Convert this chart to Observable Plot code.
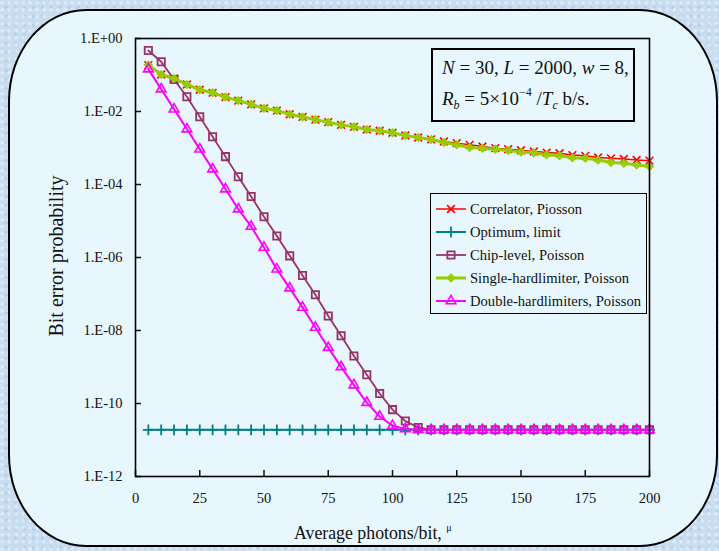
<!DOCTYPE html>
<html>
<head>
<meta charset="utf-8">
<script src="https://cdn.jsdelivr.net/npm/d3@7"></script>
<script src="https://cdn.jsdelivr.net/npm/@observablehq/plot@0.6"></script>
<style>
  html, body { margin: 0; padding: 0; }
  body {
    width: 719px; height: 551px; overflow: hidden;
    background-color: #c9ddf1;
    background-image:
      radial-gradient(circle at 30% 40%, rgba(255,255,255,0.35) 0 1.5px, transparent 2px),
      radial-gradient(circle at 70% 80%, rgba(170,195,230,0.5) 0 1.5px, transparent 2px);
    background-size: 7px 7px, 9px 9px;
    font-family: "Liberation Serif", "Times New Roman", serif;
  }
  #wrap { position: relative; width: 719px; height: 551px; }
  .panel {
    position: absolute; left: 8px; top: 9px; width: 706px; height: 534px;
    background: #e8f7fe; border: 2px solid #000;
    border-radius: 78px / 92px;
  }
  #chart { position: absolute; left: 0; top: 0; }
  .note {
    position: absolute; left: 431px; top: 48px; width: 200px; height: 70px;
    border: 2px solid #000; background: #e8f7fe; box-sizing: content-box;
    font-size: 19px; color: #111; line-height: 30px;
  }
  .note .l1 { position: absolute; left: 9px; top: 3px; white-space: nowrap; }
  .note .l2 { position: absolute; left: 9px; top: 34px; white-space: nowrap; }
  .note sub { font-size: 12px; vertical-align: -4px; line-height: 0; }
  .note sup { font-size: 12px; vertical-align: 9px; line-height: 0; }
  .legend {
    position: absolute; left: 430px; top: 193px; width: 215px; height: 119px;
    border: 1.5px solid #000; background: #e8f7fe;
    font-family: "Liberation Serif", serif;
    font-size: 14.6px; color: #111;
  }
  .legend .row { position: absolute; left: 4px; height: 20px; display: flex; align-items: center; white-space: nowrap; }
  .legend svg { margin-right: 3px; }
  .ylab {
    position: absolute; left: 56px; top: 256px;
    transform: translate(-50%, -50%) rotate(-90deg);
    font-size: 20px; white-space: nowrap; color: #111;
  }
  .xlab {
    position: absolute; left: 294px; top: 522px;
    font-size: 17.8px; white-space: nowrap; color: #111;
  }
  .xlab sup { font-size: 10px; vertical-align: 8px; }
</style>
</head>
<body>
<div id="wrap">
  <div class="panel"></div>
  <div id="chart"></div>
  <div class="note">
    <div class="l1"><i>N</i> = 30, <i>L</i> = 2000, <i>w</i> = 8,</div>
    <div class="l2"><i>R</i><sub><i>b</i></sub> = 5×10<sup>−4</sup> /<i>T</i><sub><i>c</i></sub> b/s.</div>
  </div>
  <div class="legend" id="legend"></div>
  <div class="ylab">Bit error probability</div>
  <div class="xlab">Average photons/bit, <sup>μ</sup></div>
</div>
<script>
// ---------- data ----------
const photons = [5,10,15,20,25,30,35,40,45,50,55,60,65,70,75,80,85,90,95,100,
                 105,110,115,120,125,130,135,140,145,150,155,160,165,170,175,180,185,190,195,200];

const correlator = [0.187,0.103,0.0802,0.0550,0.0394,0.0325,0.0248,0.0199,0.0157,0.0122,
                    0.0106,8.4e-3,7.1e-3,6.0e-3,5.1e-3,4.3e-3,3.8e-3,3.2e-3,2.96e-3,2.61e-3,
                    2.20e-3,1.94e-3,1.72e-3,1.51e-3,1.36e-3,1.22e-3,1.10e-3,9.9e-4,9.3e-4,8.7e-4,
                    8.0e-4,7.5e-4,7.2e-4,6.4e-4,6.1e-4,5.5e-4,5.2e-4,5.0e-4,4.7e-4,4.5e-4];

const optimum = [1.9e-11,1.9e-11,1.9e-11,1.9e-11,1.9e-11,1.9e-11,1.9e-11,1.9e-11,1.9e-11,1.9e-11,
                 1.9e-11,1.9e-11,1.9e-11,1.9e-11,1.9e-11,1.9e-11,1.9e-11,1.9e-11,1.9e-11,1.9e-11,
                 1.9e-11,1.9e-11,1.9e-11,1.9e-11,1.9e-11,1.9e-11,1.9e-11,1.9e-11,1.9e-11,1.9e-11,
                 1.9e-11,1.9e-11,1.9e-11,1.9e-11,1.9e-11,1.9e-11,1.9e-11,1.9e-11,1.9e-11,1.9e-11];

const chipLevel = [0.469,0.230,0.0753,0.0253,7.2e-3,2.03e-3,5.8e-4,1.63e-4,4.7e-5,1.30e-5,
                   3.9e-6,1.11e-6,3.2e-7,9.5e-8,2.5e-8,7.2e-9,2.0e-9,6.1e-10,1.88e-10,6.8e-11,
                   3.3e-11,2.2e-11,1.9e-11,1.9e-11,1.9e-11,1.9e-11,1.9e-11,1.9e-11,1.9e-11,1.9e-11,
                   1.9e-11,1.9e-11,1.9e-11,1.9e-11,1.9e-11,1.9e-11,1.9e-11,1.9e-11,1.9e-11,1.9e-11];

const singleHard = [0.187,0.103,0.0802,0.0550,0.0394,0.0325,0.0248,0.0199,0.0157,0.0122,
                    0.0106,8.4e-3,7.1e-3,6.0e-3,5.1e-3,4.3e-3,3.8e-3,3.2e-3,2.96e-3,2.61e-3,
                    2.20e-3,1.94e-3,1.72e-3,1.42e-3,1.22e-3,1.03e-3,9.8e-4,9.3e-4,8.6e-4,7.8e-4,
                    7.4e-4,6.5e-4,6.1e-4,5.4e-4,5.2e-4,4.7e-4,4.0e-4,3.8e-4,3.4e-4,3.1e-4];

const doubleHard = [0.145,0.0411,0.0116,3.3e-3,9.3e-4,2.64e-4,7.5e-5,2.12e-5,7.1e-6,1.88e-6,
                    4.8e-7,1.45e-7,4.3e-8,1.21e-8,3.4e-9,1.01e-9,3.2e-10,1.06e-10,4.4e-11,2.45e-11,
                    2.0e-11,1.9e-11,1.9e-11,1.9e-11,1.9e-11,1.9e-11,1.9e-11,1.9e-11,1.9e-11,1.9e-11,
                    1.9e-11,1.9e-11,1.9e-11,1.9e-11,1.9e-11,1.9e-11,1.9e-11,1.9e-11,1.9e-11,1.9e-11];

const seriesNames = ["Correlator, Piosson", "Optimum, limit", "Chip-level, Poisson",
                     "Single-hardlimiter, Poisson", "Double-hardlimiters, Poisson"];
const xTicks = [0, 25, 50, 75, 100, 125, 150, 175, 200];
const yTicks = [1, 1e-2, 1e-4, 1e-6, 1e-8, 1e-10, 1e-12];
const yTickLabels = ["1.E+00", "1.E-02", "1.E-04", "1.E-06", "1.E-08", "1.E-10", "1.E-12"];

// ---------- styles ----------
const styles = [
  {stroke: "#ff0000", width: 1.5, symbol: "times",    r: 3.6, sw: 1.6, fill: "none"},
  {stroke: "#008080", width: 2,   symbol: "plus",     r: 3.6, sw: 1.8, fill: "none"},
  {stroke: "#993366", width: 1.8, symbol: "square",   r: 4.1, sw: 1.8, fill: "none"},
  {stroke: "#99cc00", width: 3,   symbol: "diamond2", r: 3.0, sw: 2.0, fill: "none"},
  {stroke: "#ff00ff", width: 2,   symbol: "triangle", r: 3.6, sw: 1.6, fill: "none"}
];
const allSeries = [correlator, optimum, chipLevel, singleHard, doubleHard];

const tables = allSeries.map(vals => photons.map((x, i) => ({x, y: vals[i]})));

const marks = [];
tables.forEach((t, k) => {
  const s = styles[k];
  marks.push(Plot.line(t, {x: "x", y: "y", stroke: s.stroke, strokeWidth: s.width}));
  marks.push(Plot.dot(t, {x: "x", y: "y", symbol: () => s.symbol, r: s.r, stroke: s.stroke,
                          strokeWidth: s.sw, fill: s.fill}));
});

const labelOf = new Map(yTicks.map((t, i) => [t, yTickLabels[i]]));

const chart = Plot.plot({
  width: 719,
  height: 551,
  marginLeft: 135,
  marginRight: 70,
  marginTop: 38,
  marginBottom: 75,
  style: {background: "transparent", fontFamily: "'Liberation Serif', serif", fontSize: "14.5px", color: "#111"},
  x: {domain: [0, 200]},
  y: {type: "log", domain: [1e-12, 1]},
  symbol: {type: "identity"},
  marks: [
    Plot.axisY({ticks: yTicks, tickSize: 0, tickPadding: 13, fontSize: 14.5, tickFormat: d => labelOf.get(d) ?? "", label: null}),
    Plot.axisY({ticks: yTicks, tickSize: -6, tickFormat: () => "", label: null, strokeWidth: 1.5}),
    Plot.axisX({ticks: xTicks, tickSize: 0, tickPadding: 16, fontSize: 14.5, label: null}),
    Plot.axisX({ticks: xTicks, tickSize: -6, tickFormat: () => "", label: null, strokeWidth: 1.5}),
    ...marks,
    Plot.frame({stroke: "#000", strokeWidth: 1.6})
  ]
});
document.getElementById("chart").appendChild(chart);

// ---------- legend ----------
const legend = document.getElementById("legend");
seriesNames.forEach((name, k) => {
  const s = styles[k];
  const row = document.createElement("div");
  row.className = "row";
  row.style.top = (5 + k * 23) + "px";
  const path = d3.symbol(({times: d3.symbolTimes, plus: d3.symbolPlus, square: d3.symbolSquare,
                           diamond2: d3.symbolDiamond2, triangle: d3.symbolTriangle})[s.symbol],
                         Math.PI * s.r * s.r)();
  row.innerHTML = `<svg width="32" height="14" viewBox="0 0 32 14">
      <line x1="1" x2="31" y1="7" y2="7" stroke="${s.stroke}" stroke-width="${s.width}"/>
      <path d="${path}" transform="translate(16,7)" fill="${s.fill}" stroke="${s.stroke}" stroke-width="${s.sw}"/>
    </svg><span>${name}</span>`;
  legend.appendChild(row);
});
</script>
</body>
</html>
